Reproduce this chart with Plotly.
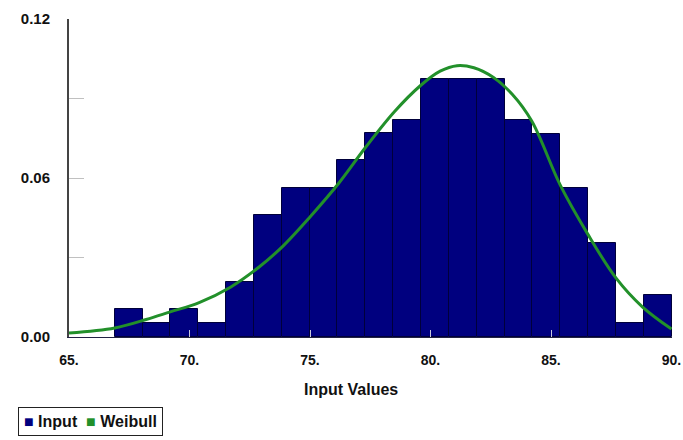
import numpy as np
import plotly.graph_objects as go

# ---- data ----
bin_start = 66.9
bin_width = 1.155
input_density = [0.0106, 0.0053, 0.0106, 0.0053, 0.0208, 0.0460, 0.0562, 0.0562,
                 0.0668, 0.0770, 0.0819, 0.0974, 0.0974, 0.0974, 0.0819, 0.0766,
                 0.0562, 0.0355, 0.0053, 0.0158]

weibull_x = [65.0, 66.9, 68.2, 69.2, 70.4, 71.7, 72.9, 73.9, 75.0, 76.2, 77.3,
             78.5, 79.6, 80.4, 81.1, 81.8, 82.6, 83.4, 84.2, 85.4, 86.5, 87.7,
             88.8, 90.0]
weibull_y = [0.0015, 0.0034, 0.0066, 0.0095, 0.0130, 0.0188, 0.0265, 0.0345,
             0.0453, 0.0581, 0.0715, 0.0850, 0.0950, 0.1003, 0.1024, 0.1016,
             0.0980, 0.0915, 0.0815, 0.0570, 0.0392, 0.0222, 0.0113, 0.0030]

x_ticks = [65, 70, 75, 80, 85, 90]
x_ticktext = ["65.", "70.", "75.", "80.", "85.", "90."]
y_ticks = [0.0, 0.03, 0.06, 0.09, 0.12]
y_ticktext = ["0.00", "", "0.06", "", "0.12"]

bin_centers = bin_start + bin_width * (np.arange(len(input_density)) + 0.5)

BLUE = "#00007f"
GREEN = "#22902a"
FONT = "Liberation Sans"

fig = go.Figure()
fig.add_trace(go.Bar(
    x=bin_centers, y=input_density, width=bin_width, name="Input",
    marker=dict(color=BLUE, line=dict(color="#00003a", width=1)),
    showlegend=False,
))
fig.add_trace(go.Scatter(
    x=weibull_x, y=weibull_y, mode="lines", name="Weibull",
    line=dict(color=GREEN, width=3, shape="spline", smoothing=1.0),
    showlegend=False,
))

W, H = 683, 440
L, R, T, B = 69, 11, 19, 103
pw, ph = W - L - R, H - T - B

def px_x(p):
    return (p - L) / pw

def px_y(p):
    return (H - B - p) / ph

fig.update_layout(
    width=W, height=H,
    margin=dict(l=L, r=R, t=T, b=B, autoexpand=False),
    paper_bgcolor="white", plot_bgcolor="white",
    bargap=0,
    font=dict(family=FONT, size=14, color="#111111", weight="bold"),
    xaxis=dict(
        range=[65, 90.02], tickvals=x_ticks, ticktext=x_ticktext,
        showgrid=False, zeroline=False, automargin=False,
        showline=True, linecolor="#222244", linewidth=1,
        ticks="inside", ticklen=7, tickcolor="#c8c8dc", tickwidth=1,
        tickfont=dict(family=FONT, size=14, weight="bold", color="#111111"),
        ticklabelstandoff=10, ticklabeloverflow="allow",
    ),
    yaxis=dict(
        range=[0, 0.12], tickvals=y_ticks, ticktext=y_ticktext,
        showgrid=False, zeroline=False, automargin=False,
        showline=True, linecolor="#444444", linewidth=2,
        ticks="inside", ticklen=15, tickcolor="#c0c0c0", tickwidth=1,
        tickfont=dict(family=FONT, size=15, weight="bold", color="#111111"),
        ticklabelstandoff=14,
    ),
    annotations=[
        dict(
            text="Input Values", xref="paper", yref="paper",
            x=px_x(351), y=px_y(389), xanchor="center", yanchor="middle",
            showarrow=False,
            font=dict(family=FONT, size=16, weight="bold", color="#111111"),
        ),
        dict(
            text=f"<span style='color:{BLUE}'>■</span> Input  "
                 f"<span style='color:{GREEN}'>■</span> Weibull",
            xref="paper", yref="paper",
            x=px_x(18), y=px_y(407), xanchor="left", yanchor="top",
            showarrow=False, align="left",
            bordercolor="#222222", borderwidth=1, borderpad=5,
            bgcolor="white",
            font=dict(family=FONT, size=16, weight="bold", color="#111111"),
        ),
    ],
)

fig.write_html("out.html", config={"displayModeBar": False},
               post_script="document.body.style.margin='0';")
